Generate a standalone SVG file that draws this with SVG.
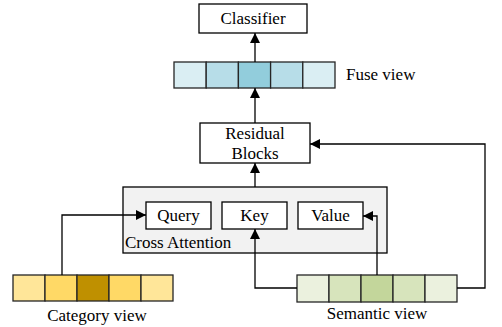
<svg xmlns="http://www.w3.org/2000/svg" width="502" height="327" viewBox="0 0 502 327" font-family="Liberation Serif, DejaVu Serif, serif" font-size="17">
<style>
.box{fill:#fff;stroke:#000;stroke-width:1.3}
.cell{stroke:#262626;stroke-width:1.3}
.c{text-anchor:middle}
.line{fill:none;stroke:#000;stroke-width:1.3}
</style>
<defs>
<marker id="ah" viewBox="0 0 10 10" refX="10" refY="5" markerWidth="10" markerHeight="10" markerUnits="userSpaceOnUse" orient="auto">
<path d="M0,0 L10,5 L0,10 Z" fill="#000"/>
</marker>
</defs>
<rect width="502" height="327" fill="#fff"/>
<g id="classifier">
<rect class="box" x="199" y="4" width="108" height="29"/>
<text class="c" x="253" y="24">Classifier</text>
</g>
<g id="fuse-view">
<rect class="cell" x="174" y="62" width="32.2" height="26" fill="#daeef3"/>
<rect class="cell" x="206.2" y="62" width="32.2" height="26" fill="#b7dde8"/>
<rect class="cell" x="238.4" y="62" width="32.2" height="26" fill="#92cddc"/>
<rect class="cell" x="270.6" y="62" width="32.2" height="26" fill="#b7dde8"/>
<rect class="cell" x="302.8" y="62" width="32.2" height="26" fill="#daeef3"/>
<text x="346" y="80">Fuse view</text>
</g>
<g id="residual-blocks">
<rect class="box" x="200" y="123" width="110" height="40"/>
<text class="c" x="255" y="139">Residual</text>
<text class="c" x="255" y="159">Blocks</text>
</g>
<g id="cross-attention">
<rect x="123" y="187" width="264" height="66" fill="#f2f2f2" stroke="#000" stroke-width="1.3"/>
<text x="125" y="248">Cross Attention</text>
</g>
<g id="query">
<rect class="box" x="146" y="202" width="65" height="27"/>
<text class="c" x="178.5" y="221">Query</text>
</g>
<g id="key">
<rect class="box" x="222" y="202" width="65" height="27"/>
<text class="c" x="254.5" y="221">Key</text>
</g>
<g id="value">
<rect class="box" x="298" y="202" width="65" height="27"/>
<text class="c" x="330.5" y="221">Value</text>
</g>
<g id="category-view">
<rect class="cell" x="13" y="275" width="32" height="26" fill="#ffe699"/>
<rect class="cell" x="45" y="275" width="32" height="26" fill="#ffd966"/>
<rect class="cell" x="77" y="275" width="32" height="26" fill="#bf9000"/>
<rect class="cell" x="109" y="275" width="32" height="26" fill="#ffd966"/>
<rect class="cell" x="141" y="275" width="32" height="26" fill="#ffe699"/>
<text class="c" x="97" y="321">Category view</text>
</g>
<g id="semantic-view">
<rect class="cell" x="297" y="275" width="32" height="27" fill="#ebf1de"/>
<rect class="cell" x="329" y="275" width="32" height="27" fill="#d7e4bc"/>
<rect class="cell" x="361" y="275" width="32" height="27" fill="#c3d69b"/>
<rect class="cell" x="393" y="275" width="32" height="27" fill="#d7e4bc"/>
<rect class="cell" x="425" y="275" width="32" height="27" fill="#ebf1de"/>
<text class="c" x="377" y="319">Semantic view</text>
</g>
<g id="connectors">
<path class="line" d="M255,62 V33" marker-end="url(#ah)"/>
<path class="line" d="M255,123 V88" marker-end="url(#ah)"/>
<path class="line" d="M255,187 V163" marker-end="url(#ah)"/>
<path class="line" d="M62,275 V215 H146" marker-end="url(#ah)"/>
<path class="line" d="M297,288 H255 V229" marker-end="url(#ah)"/>
<path class="line" d="M377,275 V216 H363" marker-end="url(#ah)"/>
<path class="line" d="M457,288 H485 V144 H310" marker-end="url(#ah)"/>
</g>
</svg>
